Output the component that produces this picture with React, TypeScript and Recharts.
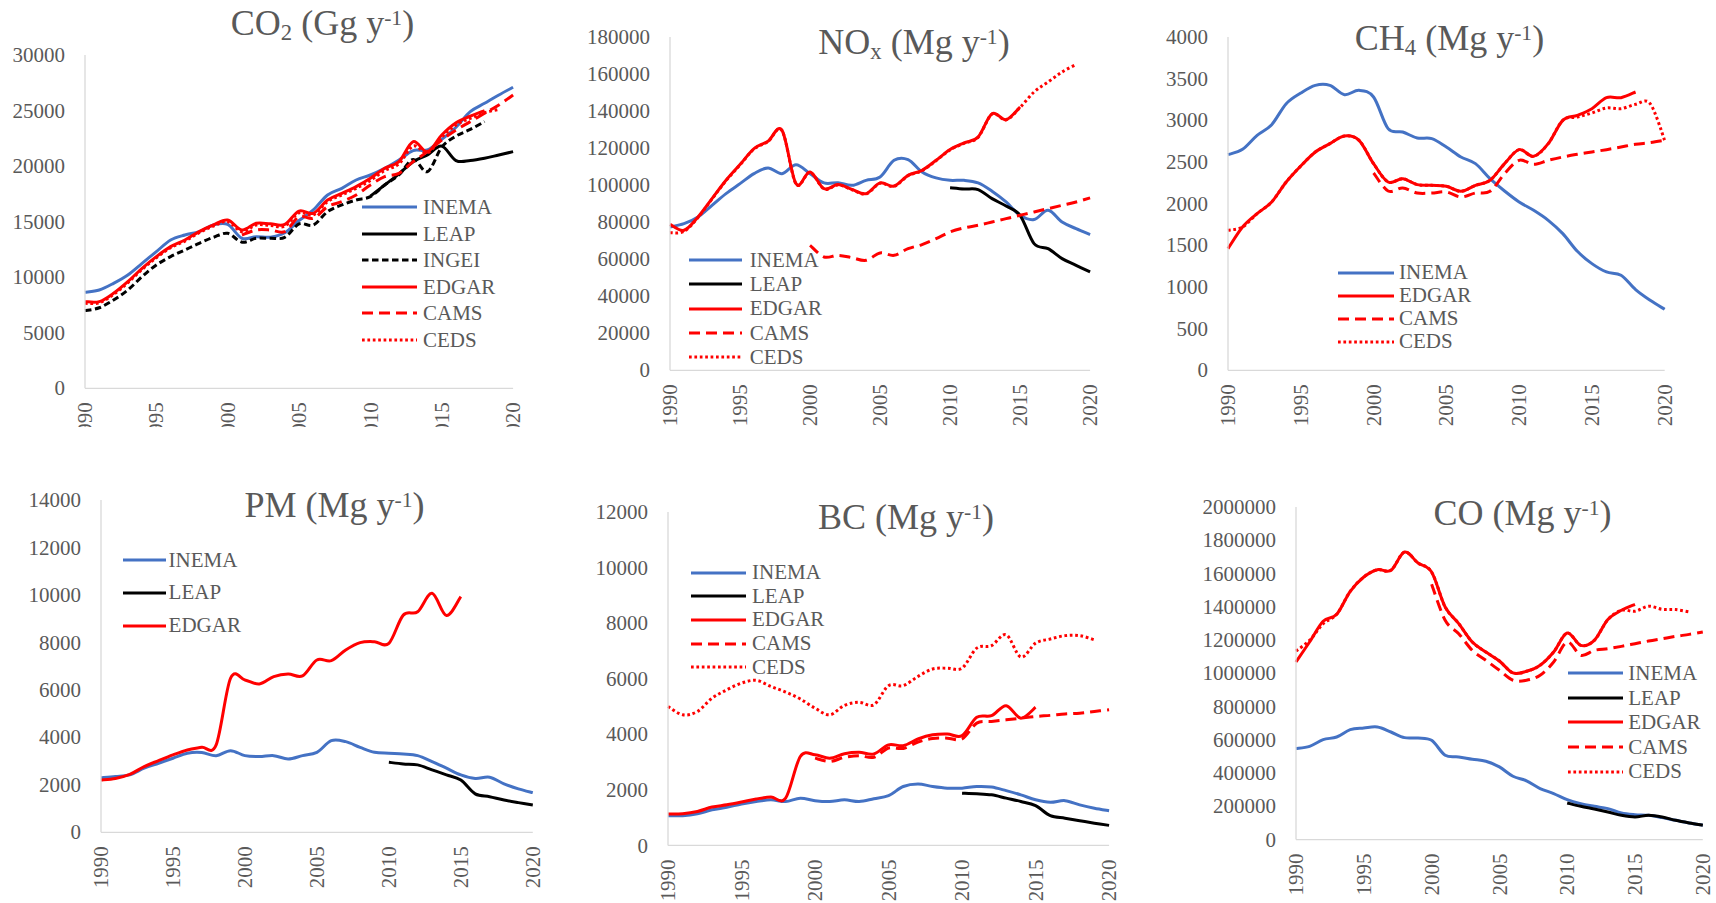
import React from 'react';
import { Legend, Line, LineChart, XAxis, YAxis } from 'recharts';

/*
 * Six emission panels (CO2, NOx, CH4, PM, BC, CO), 1990-2020,
 * one line per inventory.
 */

const _ = null;

const YEARS = [
  1990, 1991, 1992, 1993, 1994, 1995, 1996, 1997, 1998, 1999, 2000, 2001, 2002, 2003, 2004, 2005,
  2006, 2007, 2008, 2009, 2010, 2011, 2012, 2013, 2014, 2015, 2016, 2017, 2018, 2019, 2020,
];
const YEAR_TICKS = [1990, 1995, 2000, 2005, 2010, 2015, 2020];

// CO2 (Gg y-1)
const CO2_TICKS = [0, 5000, 10000, 15000, 20000, 25000, 30000];
const CO2_INEMA = [8640, 8850, 9450, 10200, 11250, 12300, 13350, 13800, 14100, 14700, 14750, 13500, 13650, 13600, 14000, 15100, 16050, 17400, 18000, 18750, 19200, 19800, 20550, 21400, 21450, 22400, 23500, 24900, 25650, 26400, 27100];
const CO2_LEAP = [_, _, _, _, _, _, _, _, _, _, _, _, _, _, _, _, _, _, _, _, 17300, 18300, 19300, 20400, 21000, 21800, 20500, 20500, 20700, 21000, 21300];
const CO2_INGEI = [6990, 7250, 7950, 8850, 10050, 11100, 11850, 12450, 13050, 13590, 13950, 13150, 13500, 13500, 13590, 14790, 14700, 15900, 16500, 16950, 17250, 18300, 19200, 20600, 19500, 21700, 22700, 23300, 24000, _, _];
const CO2_EDGAR = [7800, 7800, 8550, 9600, 10800, 11850, 12750, 13350, 14100, 14700, 15150, 14250, 14850, 14800, 14750, 15950, 15750, 16950, 17550, 18150, 18900, 19800, 20400, 22200, 21300, 22800, 23900, 24500, 25000, _, _];
const CO2_CAMS = [_, _, _, _, _, _, _, _, _, _, _, 13800, 14250, 14250, 14100, 15450, 15300, 16350, 16800, 17400, 18300, 19050, 19350, 20400, 21300, 22350, 23250, 24000, 24750, 25500, 26400];
const CO2_CEDS = [7650, 7700, 8450, 9500, 10700, 11750, 12650, 13250, 14000, 14600, 15000, 14100, 14700, 14650, 14600, 15800, 15600, 16800, 17400, 18000, 18700, 19600, 20200, 21800, 21200, 22600, 23700, 24300, 24800, 25100, _];

// NOx (Mg y-1)
const NOX_TICKS = [0, 20000, 40000, 60000, 80000, 100000, 120000, 140000, 160000, 180000];
const NOX_INEMA = [77400, 79200, 82800, 89100, 95400, 100800, 106200, 109300, 106200, 111000, 106200, 101200, 101300, 99900, 102600, 104400, 113400, 113800, 107100, 103900, 102600, 102600, 101200, 96700, 90900, 83700, 81400, 86400, 80100, 76500, 73300];
const NOX_LEAP = [_, _, _, _, _, _, _, _, _, _, _, _, _, _, _, _, _, _, _, _, 98600, 97900, 97600, 92700, 88700, 83700, 68400, 65700, 60300, 56700, 53100];
const NOX_EDGAR = [78800, 75600, 82800, 92700, 102600, 111100, 119700, 123700, 129600, 100800, 107100, 98100, 100300, 97700, 95400, 101200, 99500, 105300, 108000, 113400, 119200, 122800, 126000, 138600, 135400, 142200, _, _, _, _, _];
const NOX_CAMS = [_, _, _, _, _, _, _, _, _, _, 67500, 61200, 62100, 60800, 59400, 63400, 62100, 65700, 67900, 71100, 74700, 76900, 78300, 80100, 81900, 83700, 85500, 87300, 89100, 90900, 93100];
const NOX_CEDS = [74300, 75000, 82500, 92500, 102400, 110900, 119500, 123500, 129400, 100600, 106900, 97900, 100100, 97500, 95200, 101000, 99300, 105100, 107800, 113200, 119000, 122600, 125800, 138400, 135200, 142000, 150300, 155700, 161100, 165200, _];

// CH4 (Mg y-1)
const CH4_TICKS = [0, 500, 1000, 1500, 2000, 2500, 3000, 3500, 4000];
const CH4_INEMA = [2588, 2652, 2820, 2948, 3200, 3328, 3420, 3420, 3308, 3360, 3280, 2900, 2860, 2788, 2780, 2680, 2560, 2480, 2300, 2152, 2020, 1920, 1800, 1640, 1428, 1280, 1180, 1140, 968, 840, 732];
const CH4_EDGAR = [1460, 1720, 1880, 2020, 2260, 2452, 2620, 2720, 2812, 2760, 2480, 2260, 2300, 2228, 2220, 2208, 2148, 2220, 2280, 2480, 2648, 2568, 2720, 3000, 3060, 3140, 3272, 3272, 3340, _, _];
const CH4_CAMS = [_, _, _, _, _, _, _, _, _, _, 2368, 2152, 2188, 2128, 2128, 2140, 2080, 2128, 2148, 2360, 2520, 2472, 2520, 2560, 2592, 2620, 2648, 2680, 2712, 2732, 2760];
const CH4_CEDS = [1680, 1720, 1880, 2020, 2260, 2452, 2620, 2720, 2812, 2760, 2480, 2260, 2300, 2228, 2220, 2208, 2148, 2220, 2280, 2480, 2648, 2568, 2720, 3000, 3040, 3088, 3148, 3140, 3192, 3200, 2760];

// PM (Mg y-1)
const PM_TICKS = [0, 2000, 4000, 6000, 8000, 10000, 12000, 14000];
const PM_INEMA = [2300, 2350, 2420, 2700, 2910, 3120, 3330, 3360, 3230, 3440, 3230, 3190, 3230, 3090, 3230, 3370, 3860, 3820, 3580, 3370, 3330, 3300, 3230, 2980, 2700, 2420, 2270, 2320, 2040, 1830, 1670];
const PM_LEAP = [_, _, _, _, _, _, _, _, _, _, _, _, _, _, _, _, _, _, _, _, 2950, 2880, 2840, 2630, 2420, 2200, 1620, 1500, 1360, 1250, 1150];
const PM_EDGAR = [2200, 2270, 2440, 2770, 3020, 3260, 3470, 3580, 3680, 6490, 6420, 6250, 6560, 6670, 6590, 7260, 7230, 7680, 7990, 8030, 7960, 9150, 9290, 10070, 9130, 9930, _, _, _, _, _];

// BC (Mg y-1)
const BC_TICKS = [0, 2000, 4000, 6000, 8000, 10000, 12000];
const BC_INEMA = [1070, 1070, 1140, 1280, 1370, 1490, 1580, 1640, 1580, 1700, 1610, 1580, 1640, 1580, 1680, 1790, 2120, 2210, 2120, 2060, 2060, 2120, 2100, 1970, 1820, 1640, 1550, 1610, 1460, 1340, 1250];
const BC_LEAP = [_, _, _, _, _, _, _, _, _, _, _, _, _, _, _, _, _, _, _, _, 1880, 1860, 1820, 1700, 1580, 1430, 1070, 980, 890, 800, 720];
const BC_EDGAR = [1130, 1140, 1220, 1380, 1460, 1560, 1670, 1740, 1700, 3200, 3260, 3140, 3300, 3350, 3290, 3620, 3590, 3830, 3980, 4010, 3950, 4610, 4670, 5030, 4580, 4970, _, _, _, _, _];
const BC_CAMS = [_, _, _, _, _, _, _, _, _, _, 3140, 3020, 3170, 3230, 3170, 3500, 3490, 3720, 3850, 3860, 3830, 4400, 4460, 4520, 4580, 4640, 4680, 4730, 4760, 4820, 4880];
const BC_CEDS = [5000, 4700, 4820, 5300, 5600, 5840, 5940, 5720, 5520, 5270, 4940, 4700, 5040, 5150, 5060, 5750, 5750, 6080, 6350, 6380, 6380, 7100, 7190, 7580, 6780, 7280, 7430, 7550, 7550, 7400, _];

// CO (Mg y-1)
const CO_TICKS = [0, 200000, 400000, 600000, 800000, 1000000, 1200000, 1400000, 1600000, 1800000, 2000000];
const CO_INEMA = [547000, 561000, 601000, 617000, 661000, 671000, 677000, 647000, 613000, 611000, 597000, 507000, 497000, 483000, 471000, 437000, 381000, 353000, 307000, 277000, 240000, 216000, 200000, 186000, 160000, 150000, 146000, 132000, 116000, 100000, 86000];
const CO_LEAP = [_, _, _, _, _, _, _, _, _, _, _, _, _, _, _, _, _, _, _, _, 220000, 200000, 184000, 166000, 146000, 136000, 146000, 136000, 116000, 100000, 86000];
const CO_EDGAR = [1068000, 1188000, 1313000, 1355000, 1493000, 1579000, 1623000, 1619000, 1729000, 1663000, 1609000, 1399000, 1299000, 1188000, 1128000, 1074000, 1002000, 1012000, 1048000, 1128000, 1242000, 1168000, 1198000, 1323000, 1379000, 1415000, _, _, _, _, _];
const CO_CAMS = [_, _, _, _, _, _, _, _, _, _, 1535000, 1319000, 1238000, 1138000, 1078000, 1018000, 958000, 958000, 988000, 1068000, 1188000, 1108000, 1138000, 1148000, 1162000, 1178000, 1194000, 1208000, 1222000, 1234000, 1248000];
const CO_CEDS = [1134000, 1198000, 1298000, 1355000, 1493000, 1579000, 1623000, 1619000, 1729000, 1663000, 1609000, 1399000, 1299000, 1188000, 1128000, 1074000, 1002000, 1012000, 1048000, 1128000, 1242000, 1168000, 1198000, 1323000, 1379000, 1373000, 1403000, 1385000, 1383000, 1369000, _];

const BLUE = '#4472C4';
const RED = '#FF0000';
const BLACK = '#000000';
const TEXT = '#595959';
const AXIS = '#D9D9D9';
const FONT = '"Liberation Serif", "Times New Roman", serif';
const LINE_W = 3;

const STYLES: Record<string, { color: string; dash?: string }> = {
  INEMA: { color: BLUE },
  LEAP: { color: BLACK },
  INGEI: { color: BLACK, dash: '6.5 3.5' },
  EDGAR: { color: RED },
  CAMS: { color: RED, dash: '11 6' },
  CEDS: { color: RED, dash: '2.7 2.7' },
};

// Excel-like smoothed line (Catmull-Rom through every point)
function excelSmooth(context: any) {
  let pts: number[][] = [];
  return {
    areaStart() {},
    areaEnd() {},
    lineStart() {
      pts = [];
    },
    point(x: number, y: number) {
      pts.push([+x, +y]);
    },
    lineEnd() {
      const n = pts.length;
      if (!n) return;
      context.moveTo(pts[0][0], pts[0][1]);
      if (n === 1) {
        context.lineTo(pts[0][0], pts[0][1]);
        return;
      }
      for (let i = 0; i < n - 1; i++) {
        const p0 = pts[i === 0 ? 0 : i - 1];
        const p1 = pts[i];
        const p2 = pts[i + 1];
        const p3 = pts[i + 2 < n ? i + 2 : n - 1];
        context.bezierCurveTo(
          p1[0] + (p2[0] - p0[0]) / 6,
          p1[1] + (p2[1] - p0[1]) / 6,
          p2[0] - (p3[0] - p1[0]) / 6,
          p2[1] - (p3[1] - p1[1]) / 6,
          p2[0],
          p2[1],
        );
      }
    },
  };
}

const Sub = ({ children }: { children: React.ReactNode }) => (
  <span style={{ fontSize: '0.63em', verticalAlign: '-0.23em', lineHeight: 0 }}>{children}</span>
);
const Sup = ({ children }: { children: React.ReactNode }) => (
  <span style={{ fontSize: '0.6em', verticalAlign: '0.48em', lineHeight: 0 }}>{children}</span>
);

interface PanelDef {
  id: string;
  title: React.ReactNode;
  series: Array<{ name: string; values: Array<number | null> }>;
  yTicks: number[];
  box: { left: number; right: number; top: number; bottom: number; clip?: number };
  titleAt: { cx: number; baseline: number };
  legend: { x0: number; x1: number; tx: number; y0: number; step: number };
}

const PANELS: PanelDef[] = [
  {
    id: 'co2',
    title: (<>CO<Sub>2</Sub> (Gg y<Sup>-1</Sup>)</>),
    series: [
      { name: 'INEMA', values: CO2_INEMA },
      { name: 'LEAP', values: CO2_LEAP },
      { name: 'INGEI', values: CO2_INGEI },
      { name: 'EDGAR', values: CO2_EDGAR },
      { name: 'CAMS', values: CO2_CAMS },
      { name: 'CEDS', values: CO2_CEDS },
    ],
    yTicks: CO2_TICKS,
    box: { left: 85.4, right: 513.5, top: 55, bottom: 388.3, clip: 427 },
    titleAt: { cx: 322.5, baseline: 35 },
    legend: { x0: 361.6, x1: 416.7, tx: 423, y0: 207.3, step: 26.5 },
  },
  {
    id: 'nox',
    title: (<>NO<Sub>x</Sub> (Mg y<Sup>-1</Sup>)</>),
    series: [
      { name: 'INEMA', values: NOX_INEMA },
      { name: 'LEAP', values: NOX_LEAP },
      { name: 'EDGAR', values: NOX_EDGAR },
      { name: 'CAMS', values: NOX_CAMS },
      { name: 'CEDS', values: NOX_CEDS },
    ],
    yTicks: NOX_TICKS,
    box: { left: 669.9, right: 1090, top: 36.7, bottom: 370 },
    titleAt: { cx: 914, baseline: 54 },
    legend: { x0: 688.8, x1: 742.2, tx: 749.8, y0: 260, step: 24.3 },
  },
  {
    id: 'ch4',
    title: (<>CH<Sub>4</Sub> (Mg y<Sup>-1</Sup>)</>),
    series: [
      { name: 'INEMA', values: CH4_INEMA },
      { name: 'EDGAR', values: CH4_EDGAR },
      { name: 'CAMS', values: CH4_CAMS },
      { name: 'CEDS', values: CH4_CEDS },
    ],
    yTicks: CH4_TICKS,
    box: { left: 1228.3, right: 1665, top: 36.7, bottom: 370 },
    titleAt: { cx: 1449.5, baseline: 50 },
    legend: { x0: 1337.7, x1: 1393.7, tx: 1399, y0: 272.7, step: 23 },
  },
  {
    id: 'pm',
    title: (<>PM (Mg y<Sup>-1</Sup>)</>),
    series: [
      { name: 'INEMA', values: PM_INEMA },
      { name: 'LEAP', values: PM_LEAP },
      { name: 'EDGAR', values: PM_EDGAR },
    ],
    yTicks: PM_TICKS,
    box: { left: 101.1, right: 532.9, top: 500, bottom: 832.3 },
    titleAt: { cx: 334.5, baseline: 516.7 },
    legend: { x0: 122.5, x1: 166, tx: 168.6, y0: 560, step: 32.8 },
  },
  {
    id: 'bc',
    title: (<>BC (Mg y<Sup>-1</Sup>)</>),
    series: [
      { name: 'INEMA', values: BC_INEMA },
      { name: 'LEAP', values: BC_LEAP },
      { name: 'EDGAR', values: BC_EDGAR },
      { name: 'CAMS', values: BC_CAMS },
      { name: 'CEDS', values: BC_CEDS },
    ],
    yTicks: BC_TICKS,
    box: { left: 667.5, right: 1108.6, top: 512.3, bottom: 845.7 },
    titleAt: { cx: 906, baseline: 529 },
    legend: { x0: 690.7, x1: 746, tx: 752, y0: 572.7, step: 23.7 },
  },
  {
    id: 'co',
    title: (<>CO (Mg y<Sup>-1</Sup>)</>),
    series: [
      { name: 'INEMA', values: CO_INEMA },
      { name: 'LEAP', values: CO_LEAP },
      { name: 'EDGAR', values: CO_EDGAR },
      { name: 'CAMS', values: CO_CAMS },
      { name: 'CEDS', values: CO_CEDS },
    ],
    yTicks: CO_TICKS,
    box: { left: 1295.5, right: 1702.3, top: 506.7, bottom: 839.3 },
    titleAt: { cx: 1522.5, baseline: 525 },
    legend: { x0: 1567.6, x1: 1622.9, tx: 1628.3, y0: 673.3, step: 24.6 },
  },
];

const YW = 110; // y-axis band width
const MT = 12;
const MR = 14;
const XH = 70;

function YearTick(props: any) {
  const { x, y, payload } = props;
  return (
    <text
      x={x}
      y={y}
      transform={`rotate(-90 ${x} ${y})`}
      dx={-14}
      dy="0.34em"
      textAnchor="end"
      fill={TEXT}
      fontSize={21}
      style={{ fontFamily: FONT }}
    >
      {payload.value}
    </text>
  );
}

function ValueTick(props: any) {
  const { x, y, payload } = props;
  return (
    <text x={x} y={y} dy="0.34em" textAnchor="end" fill={TEXT} fontSize={21} style={{ fontFamily: FONT }}>
      {payload.value}
    </text>
  );
}

function LegendBox({ names, legend }: { names: string[]; legend: PanelDef['legend'] }) {
  const len = legend.x1 - legend.x0;
  return (
    <div style={{ fontFamily: FONT, fontSize: 21, color: TEXT }}>
      {names.map((name) => {
        const st = STYLES[name];
        return (
          <div key={name} style={{ display: 'flex', alignItems: 'center', height: legend.step }}>
            <svg width={len} height={6} style={{ display: 'block', flex: 'none' }}>
              <line x1={0} y1={3} x2={len} y2={3} stroke={st.color} strokeWidth={LINE_W} strokeDasharray={st.dash} />
            </svg>
            <span style={{ marginLeft: legend.tx - legend.x1, lineHeight: `${legend.step}px`, whiteSpace: 'nowrap' }}>
              {name}
            </span>
          </div>
        );
      })}
    </div>
  );
}

function Panel({ p }: { p: PanelDef }) {
  const { left, right, top, bottom, clip } = p.box;
  const chartLeft = left - YW;
  const chartTop = top - MT;
  const width = YW + (right - left) + MR;
  const height = MT + (bottom - top) + XH;
  const visibleH = clip ? clip - chartTop : height;
  const data = YEARS.map((year, i) => {
    const row: Record<string, number | null> = { year };
    for (const s of p.series) row[s.name] = s.values[i];
    return row;
  });
  const yMax = p.yTicks[p.yTicks.length - 1];
  const names = p.series.map((s) => s.name);

  return (
    <>
      <div
        style={{
          position: 'absolute',
          left: p.titleAt.cx - 200,
          top: p.titleAt.baseline - 32,
          width: 400,
          textAlign: 'center',
          fontFamily: FONT,
          fontSize: 36,
          lineHeight: '40px',
          color: TEXT,
          whiteSpace: 'nowrap',
        }}
      >
        {p.title}
      </div>
      <div style={{ position: 'absolute', left: chartLeft, top: chartTop, width, height: visibleH, overflow: 'hidden' }}>
        <LineChart width={width} height={height} data={data} margin={{ top: MT, right: MR, bottom: 0, left: 0 }}>
          <XAxis
            dataKey="year"
            type="number"
            domain={[1990, 2020]}
            ticks={YEAR_TICKS}
            interval={0}
            height={XH}
            tickLine={false}
            tickSize={0}
            tickMargin={0}
            axisLine={{ stroke: AXIS, strokeWidth: 1.3 }}
            tick={(props: any) => <YearTick {...props} />}
          />
          <YAxis
            type="number"
            domain={[0, yMax]}
            ticks={p.yTicks}
            interval={0}
            width={YW}
            tickLine={false}
            tickSize={0}
            tickMargin={20}
            axisLine={{ stroke: AXIS, strokeWidth: 1.3 }}
            tick={(props: any) => <ValueTick {...props} />}
          />
          <Legend
            layout="vertical"
            align="center"
            verticalAlign="middle"
            wrapperStyle={{
              left: p.legend.x0 - chartLeft,
              top: p.legend.y0 - p.legend.step / 2 - chartTop,
              width: 'auto',
              margin: 0,
              padding: 0,
            }}
            content={() => <LegendBox names={names} legend={p.legend} />}
          />
          {p.series.map((s) => (
            <Line
              key={s.name}
              dataKey={s.name}
              name={s.name}
              type={excelSmooth as any}
              stroke={STYLES[s.name].color}
              strokeWidth={LINE_W}
              strokeDasharray={STYLES[s.name].dash}
              dot={false}
              activeDot={false}
              connectNulls={false}
              isAnimationActive={false}
            />
          ))}
        </LineChart>
      </div>
    </>
  );
}

export default function App() {
  return (
    <div
      style={{
        position: 'absolute',
        left: 0,
        top: 0,
        width: 1716,
        height: 903,
        overflow: 'hidden',
        background: '#ffffff',
      }}
    >
      {PANELS.map((p) => (
        <Panel key={p.id} p={p} />
      ))}
    </div>
  );
}
